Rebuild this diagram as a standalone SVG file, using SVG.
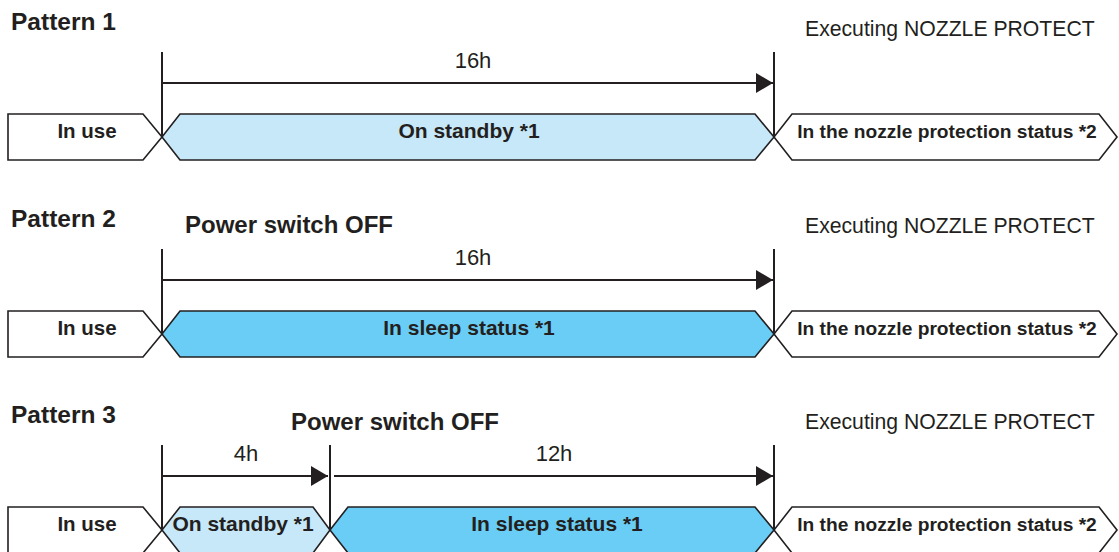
<svg xmlns="http://www.w3.org/2000/svg" width="1119" height="552" viewBox="0 0 1119 552">
<style>
.bg{fill:#ffffff}
.box{stroke:#231f20;stroke-width:1.6;stroke-linejoin:miter}
.white{fill:#ffffff}
.stand{fill:#c6e8f8}
.sleep{fill:#6acdf5}
.lbl{font-family:"Liberation Sans",Arial,sans-serif;font-weight:bold;font-size:20.5px;fill:#231f20;text-anchor:middle}
.mid{font-size:21px}
.noz{font-size:19.2px}
.pat{font-family:"Liberation Sans",Arial,sans-serif;font-weight:bold;font-size:24.5px;fill:#231f20}
.pw{font-size:24px}
.exec{font-family:"Liberation Sans",Arial,sans-serif;font-size:21.2px;fill:#231f20}
.dur{font-family:"Liberation Sans",Arial,sans-serif;font-size:22px;fill:#231f20;text-anchor:middle}
.ln{stroke:#231f20;stroke-width:2;fill:none}
</style>
<defs>
<marker id="ah" markerUnits="userSpaceOnUse" markerWidth="17" markerHeight="20" refX="17" refY="10" orient="auto">
<path d="M0,0 L17,10 L0,20 z" fill="#231f20"/>
</marker>
</defs>
<rect class="bg" x="0" y="0" width="1119" height="552"/>

<g id="pattern1">
<text class="pat" x="11" y="30">Pattern 1</text>
<text class="exec" x="805" y="36">Executing NOZZLE PROTECT</text>
<g id="p1-inuse"><path class="box white" d="M8,114 L143,114 L162,137 L143,160 L8,160 Z"/><text class="lbl" x="87" y="138">In use</text></g>
<g id="p1-standby"><path class="box stand" d="M162,137 L180,114 L755,114 L774,137 L755,160 L180,160 Z"/><text class="lbl mid" x="469" y="138">On standby *1</text></g>
<g id="p1-nozzle"><path class="box white" d="M774,137 L792,114 L1099,114 L1117,137 L1099,160 L792,160 Z"/><text class="lbl noz" x="947" y="138">In the nozzle protection status *2</text></g>
<text class="dur" x="473" y="68">16h</text>
</g>

<g id="pattern2">
<text class="pat" x="11" y="227">Pattern 2</text>
<text class="pat pw" x="185" y="233">Power switch OFF</text>
<text class="exec" x="805" y="233">Executing NOZZLE PROTECT</text>
<g id="p2-inuse"><path class="box white" d="M8,311 L143,311 L162,334 L143,357 L8,357 Z"/><text class="lbl" x="87" y="335">In use</text></g>
<g id="p2-sleep"><path class="box sleep" d="M162,334 L180,311 L755,311 L774,334 L755,357 L180,357 Z"/><text class="lbl mid" x="469" y="335">In sleep status *1</text></g>
<g id="p2-nozzle"><path class="box white" d="M774,334 L792,311 L1099,311 L1117,334 L1099,357 L792,357 Z"/><text class="lbl noz" x="947" y="335">In the nozzle protection status *2</text></g>
<text class="dur" x="473" y="265">16h</text>
</g>

<g id="pattern3">
<text class="pat" x="11" y="423">Pattern 3</text>
<text class="pat pw" x="291" y="430">Power switch OFF</text>
<text class="exec" x="805" y="429">Executing NOZZLE PROTECT</text>
<g id="p3-inuse"><path class="box white" d="M8,507 L143,507 L162,530 L143,553 L8,553 Z"/><text class="lbl" x="87" y="531">In use</text></g>
<g id="p3-standby"><path class="box stand" d="M162,530 L180,507 L313,507 L330,530 L313,553 L180,553 Z"/><text class="lbl mid" x="243" y="531">On standby *1</text></g>
<g id="p3-sleep"><path class="box sleep" d="M330,530 L348,507 L755,507 L774,530 L755,553 L348,553 Z"/><text class="lbl mid" x="557" y="531">In sleep status *1</text></g>
<g id="p3-nozzle"><path class="box white" d="M774,530 L792,507 L1099,507 L1117,530 L1099,553 L792,553 Z"/><text class="lbl noz" x="947" y="531">In the nozzle protection status *2</text></g>
<text class="dur" x="246" y="461">4h</text>
<text class="dur" x="554" y="461">12h</text>
</g>

<g id="connectors">
<line class="ln" x1="162" y1="52" x2="162" y2="137"/>
<line class="ln" x1="774" y1="52" x2="774" y2="137"/>
<line class="ln" x1="162" y1="83" x2="773" y2="83" marker-end="url(#ah)"/>
<line class="ln" x1="162" y1="249" x2="162" y2="334"/>
<line class="ln" x1="774" y1="249" x2="774" y2="334"/>
<line class="ln" x1="162" y1="280" x2="773" y2="280" marker-end="url(#ah)"/>
<line class="ln" x1="162" y1="445" x2="162" y2="530"/>
<line class="ln" x1="330" y1="445" x2="330" y2="530"/>
<line class="ln" x1="774" y1="445" x2="774" y2="530"/>
<line class="ln" x1="162" y1="476" x2="328" y2="476" marker-end="url(#ah)"/>
<line class="ln" x1="334" y1="476" x2="773" y2="476" marker-end="url(#ah)"/>
</g>
</svg>
